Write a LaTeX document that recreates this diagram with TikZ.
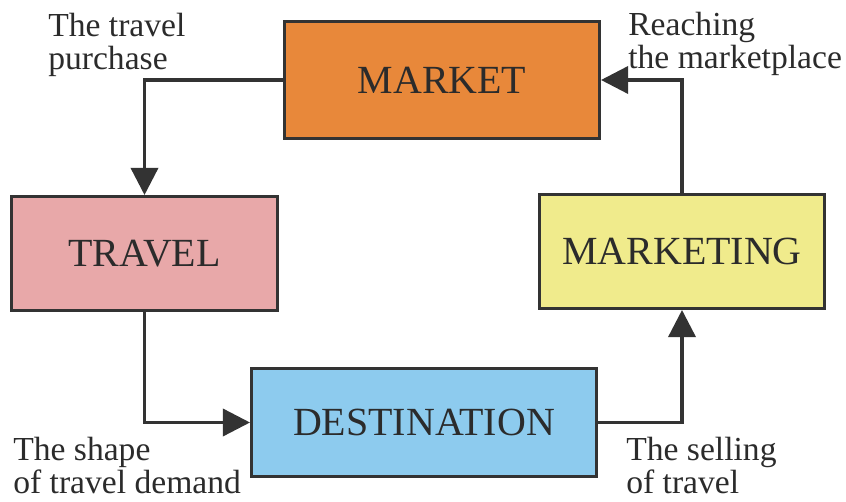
\documentclass[tikz,border=0pt]{standalone}
\usepackage{fontspec}
\setmainfont{Liberation Serif}
\usetikzlibrary{arrows.meta}
\definecolor{linegray}{HTML}{333333}
\definecolor{textgray}{HTML}{2B2B2B}
\definecolor{mktorange}{HTML}{E8883A}
\definecolor{travelpink}{HTML}{E8A8A9}
\definecolor{mktyellow}{HTML}{F0EB8C}
\definecolor{destblue}{HTML}{8DCBEE}
\tikzset{
  box/.style={draw=linegray, line width=0.75mm, text=textgray, inner sep=0pt,
    font=\fontsize{28.4}{30}\selectfont},
  flow/.style={draw=linegray, line width=0.85mm,
    -{Triangle[length=6.8mm,width=6.8mm]}},
  flowtext/.style={text=textgray, inner sep=0pt, anchor=north west, align=left,
    font=\fontsize{23.9}{23.5}\selectfont}
}
\begin{document}
\begin{tikzpicture}[x=0.25mm,y=0.25mm]
\useasboundingbox (0,0) rectangle (846,501);
% the four boxes
\node[box, fill=mktorange, minimum width=78.75mm, minimum height=29.25mm] (market) at (442,421) {MARKET};
\node[box, fill=travelpink, minimum width=66.5mm, minimum height=28.5mm] (travel) at (144.5,247.5) {TRAVEL};
\node[box, fill=mktyellow, minimum width=71.25mm, minimum height=28.5mm] (marketing) at (682,249.5) {MARKETING};
\node[box, fill=destblue, minimum width=86.25mm, minimum height=27mm] (destination) at (424,78.5) {DESTINATION};
% the cycle
\draw[flow] (market.west) -| (travel.north);
\draw[flow] (travel.south) |- (destination.west);
\draw[flow] (destination.east) -| (marketing.south);
\draw[flow] (marketing.north) |- (market.east);
% texts on the arrows
\node[flowtext] (purchase) at (48,488) {The travel\\purchase};
\node[flowtext] (reaching) at (628,489) {Reaching\\the marketplace};
\node[flowtext] (shape) at (13,64) {The shape\\of travel demand};
\node[flowtext] (selling) at (626,64) {The selling\\of travel};
\end{tikzpicture}
\end{document}
